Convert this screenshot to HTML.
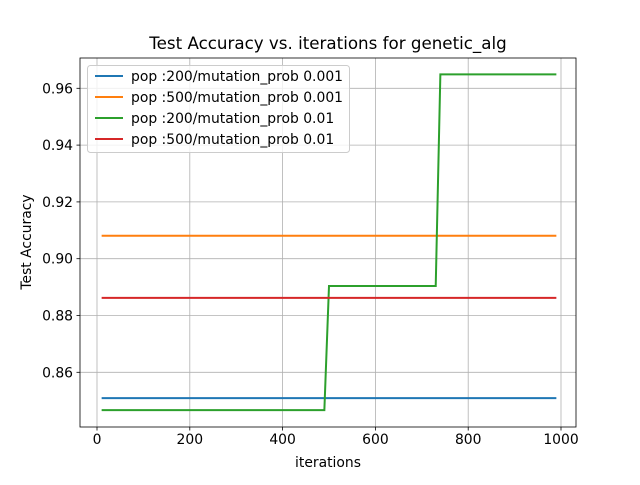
<!DOCTYPE html>
<html><head><meta charset="utf-8"><style>body{margin:0;background:#fff}svg{font-family:"DejaVu Sans","Liberation Sans",sans-serif}</style></head>
<body>
<svg id="c" width="640" height="480"></svg>
<script>
const xTicks=[0,200,400,600,800,1000];
const yTicks=[0.86,0.88,0.90,0.92,0.94,0.96];
const seriesNames=["pop :200/mutation_prob 0.001","pop :500/mutation_prob 0.001","pop :200/mutation_prob 0.01","pop :500/mutation_prob 0.01"];
const colors=["#1f77b4","#ff7f0e","#2ca02c","#d62728"];
const s0x=[10,990], s0y=[0.8509,0.8509];
const s1x=[10,990], s1y=[0.9081,0.9081];
const s2x=[10,490,500,730,740,990], s2y=[0.8467,0.8467,0.8904,0.8904,0.9649,0.9649];
const s3x=[10,990], s3y=[0.8862,0.8862];
const XS=[s0x,s1x,s2x,s3x], YS=[s0y,s1y,s2y,s3y];
const L=80,R=576,T=58,B=427;
const fx=v=>97+v*0.464;
const fy=v=>372.3-(v-0.86)*2840;
const svg=document.getElementById('c');
const NS='http://www.w3.org/2000/svg';
function mk(t,a,p){const e=document.createElementNS(NS,t);for(const k in a)e.setAttribute(k,a[k]);(p||svg).appendChild(e);return e;}
xTicks.forEach(v=>{const x=fx(v);
 const g=mk('line',{x1:x,x2:x,y1:T,y2:B,stroke:'#b0b0b0','stroke-width':0.8});
 
 
 mk('line',{x1:x,x2:x,y1:B,y2:B+3.5,stroke:'#000','stroke-width':0.8});
 const t=mk('text',{x:x,y:B+17,'text-anchor':'middle','font-size':13.9});t.textContent=v;
 
 });
yTicks.forEach(v=>{const y=fy(v);
 const g=mk('line',{x1:L,x2:R,y1:y,y2:y,stroke:'#b0b0b0','stroke-width':0.8});
 
 
 mk('line',{x1:L-3.5,x2:L,y1:y,y2:y,stroke:'#000','stroke-width':0.8});
 const t=mk('text',{x:L-7,y:y+5,'text-anchor':'end','font-size':13.9});t.textContent=v.toFixed(2);
 
 });
XS.forEach((xs,i)=>{const p=mk('polyline',{points:xs.map((x,j)=>fx(x)+','+fy(YS[i][j])).join(' '),fill:'none',stroke:colors[i],'stroke-width':2});
 
 });
const fr=mk('rect',{x:L,y:T,width:R-L,height:B-T,fill:'none',stroke:'#000','stroke-width':0.8});


const lg=mk('g',{});


mk('rect',{x:87.5,y:65.5,width:262,height:87,rx:3,fill:'#fff','fill-opacity':0.8,stroke:'#ccc'},lg);
seriesNames.forEach((n,i)=>{const y=76+i*21;
 mk('line',{x1:95,x2:123,y1:y,y2:y,stroke:colors[i],'stroke-width':2},lg);
 const t=mk('text',{x:131,y:y+5,'font-size':13.9},lg);t.textContent=n;
 
 });
const ti=mk('text',{x:328,y:49,'text-anchor':'middle','font-size':16.7});ti.textContent='Test Accuracy vs. iterations for genetic_alg';


const xl=mk('text',{x:328,y:467,'text-anchor':'middle','font-size':13.9});xl.textContent='iterations';


const yl=mk('text',{x:31,y:242,'text-anchor':'middle','font-size':13.9,transform:'rotate(-90 31 242)'});yl.textContent='Test Accuracy';


</script>
</body></html>
